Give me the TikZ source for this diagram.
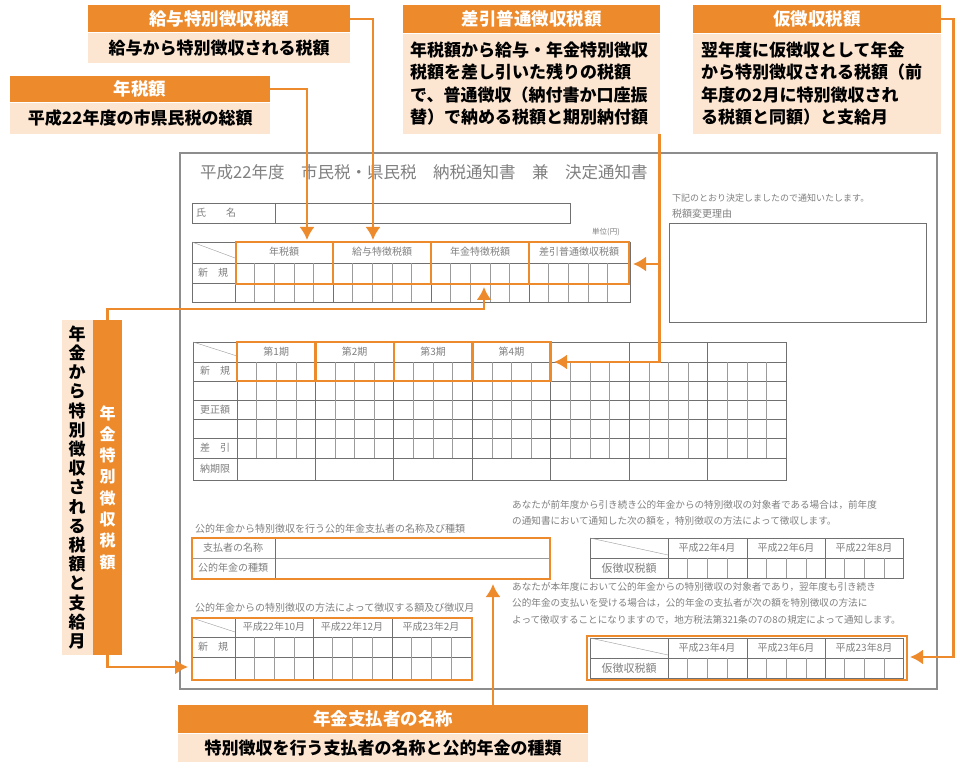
\documentclass[tikz,border=0pt]{standalone}
\usepackage{fontspec}
\setmainfont{Noto Sans CJK JP}
\usetikzlibrary{shapes,arrows,arrows.meta}
\usetikzlibrary{positioning}

\definecolor{orng}{HTML}{EC8A2C}
\definecolor{peach}{HTML}{FCE6D2}
\definecolor{formgray}{HTML}{707070}
\definecolor{textgray}{HTML}{808080}

\tikzset{
  hdr/.style={fill=orng, text=white, inner sep=0pt, font=\fontsize{17.5}{20}\selectfont\bfseries},
  body/.style={fill=peach, text=black, inner sep=0pt, font=\fontsize{17}{22.5}\selectfont\bfseries},
  conn/.style={draw=orng, line width=2.2pt, -{Latex[length=13pt, width=15pt]}},
  obox/.style={draw=orng, line width=2.5pt},
  frm/.style={draw=formgray, line width=0.9pt},
  cell/.style={draw=formgray!70, line width=0.4pt},
  ftext/.style={text=textgray, inner sep=0pt, font=\fontsize{10}{16}\selectfont},
}

\begin{document}
\begin{tikzpicture}[x=1pt, y=-1pt]
    \fill[white] (0,0) rectangle (959,762);
    \useasboundingbox (0,0) rectangle (959,762);

    % callouts
    \node[hdr, anchor=north west, minimum width=262pt, minimum height=27pt] (kyuyoHdr) at (88,5) {給与特別徴収税額};
    \node[body, minimum width=262pt, minimum height=30pt, below=0pt of kyuyoHdr] (kyuyoBody) {給与から特別徴収される税額};
    \node[hdr, anchor=north west, minimum width=260pt, minimum height=26pt] (nenHdr) at (10,76) {年税額};
    \node[body, minimum width=260pt, minimum height=31pt, below=0pt of nenHdr] (nenBody) {平成22年度の市県民税の総額};
    \node[hdr, anchor=north west, minimum width=257pt, minimum height=28pt] (sashiHdr) at (403,5) {差引普通徴収税額};
    \node[body, minimum width=257pt, minimum height=100pt, text width=243pt, align=left, below=0pt of sashiHdr] (sashiBody)
        {年税額から給与・年金特別徴収\\税額を差し引いた残りの税額\\で、普通徴収（納付書か口座振\\替）で納める税額と期別納付額};
    \node[hdr, anchor=north west, minimum width=248pt, minimum height=28pt] (kariHdr) at (693,5) {仮徴収税額};
    \node[body, minimum width=248pt, minimum height=100pt, text width=232pt, align=left, below=0pt of kariHdr] (kariBody)
        {翌年度に仮徴収として年金\\から特別徴収される税額（前\\年度の2月に特別徴収され\\る税額と同額）と支給月};
    \node[hdr, minimum width=29pt, minimum height=335pt, align=center, font=\fontsize{16}{21.3}\selectfont\bfseries] (nkHdr) at (107.5,487.5)
        {年\\金\\特\\別\\徴\\収\\税\\額};
    \node[body, minimum width=31pt, minimum height=335pt, align=center, font=\fontsize{17}{19.2}\selectfont\bfseries, left=0pt of nkHdr] (nkBody)
        {年\\金\\か\\ら\\特\\別\\徴\\収\\さ\\れ\\る\\税\\額\\と\\支\\給\\月};
    \node[hdr, anchor=north west, minimum width=410pt, minimum height=28pt] (shiHdr) at (178,705) {年金支払者の名称};
    \node[body, minimum width=410pt, minimum height=29pt, below=0pt of shiHdr] (shiBody) {特別徴収を行う支払者の名称と公的年金の種類};

    % form
    \draw[draw=formgray!80, line width=1.5pt] (180,153) rectangle (937,689);
    \node[ftext, anchor=west, font=\fontsize{16.5}{18}\selectfont] (formTitle) at (200,172)
        {平成22年度　市民税・県民税　納税通知書　兼　決定通知書};
    \draw[frm] (192,203) rectangle (570,223) (275,203) -- (275,223);
    \node[ftext, anchor=west] (shimei) at (196,213) {氏　　名};
    \node[ftext, font=\fontsize{7.5}{9}\selectfont] (tani) at (606,232) {単位(円)};
    \node[ftext, anchor=west, font=\fontsize{9}{10}\selectfont] (kaki) at (672,198) {下記のとおり決定しましたので通知いたします。};
    \node[ftext, anchor=west] (riyu) at (672,214) {税額変更理由};
    \draw[frm] (669,223) rectangle (926,322);

    % top table
    \draw[frm] (192,242) rectangle (630,302) (192,263) -- (630,263) (192,283) -- (630,283) (235,242) -- (235,302);
    \foreach \g in {333,431,529} \draw[frm] (\g,242) -- (\g,302);
    \draw[cell] (192,242) -- (235,258);
    \foreach \g in {235,333,431,529} \foreach \k in {1,...,4} \draw[cell] ({\g+19.6*\k},263) -- ({\g+19.6*\k},302);
    \node[ftext] (colNen) at (284,252) {年税額};
    \node[ftext] (colKyuyo) at (382,252) {給与特徴税額};
    \node[ftext] (colNenkin) at (480,252) {年金特徴税額};
    \node[ftext] (colSashi) at (579,252) {差引普通徴収税額};
    \node[ftext] (topShinki) at (213,273) {新　規};
    \draw[obox] (236,242) rectangle (629,284);
    \foreach \g in {333,431,529} \draw[obox] (\g,242) -- (\g,284);

    % period table
    \draw[frm] (193,342) rectangle (786,480) (237,342) -- (237,480);
    \foreach \y in {362,381,400,419,438,458} \draw[frm] (193,\y) -- (786,\y);
    \foreach \k in {1,...,6} \draw[frm] ({237+78.43*\k},342) -- ({237+78.43*\k},480);
    \foreach \k in {0,...,6} \foreach \j in {1,2,3} \draw[cell] ({237+78.43*\k+19.6*\j},362) -- ({237+78.43*\k+19.6*\j},458);
    \draw[cell] (193,342) -- (237,356);
    \foreach \k in {1,...,4} \node[ftext] (ki\k) at ({237+78.43*\k-39.2},352) {第\k 期};
    \node[ftext] (kiShinki) at (215,371) {新　規};
    \node[ftext] (kiKosei) at (215,410) {更正額};
    \node[ftext] (kiSashi) at (215,448) {差　引};
    \node[ftext] (kiNoki) at (215,469) {納期限};
    \draw[obox] (237,342) rectangle (550.7,381);
    \foreach \k in {1,2,3} \draw[obox] ({237+78.43*\k},342) -- ({237+78.43*\k},381);

    % payer box
    \node[ftext, anchor=west] (shiNote) at (195,529) {公的年金から特別徴収を行う公的年金支払者の名称及び種類};
    \draw[cell] (192,558) -- (550,558);
    \draw[frm] (275,538) -- (275,579);
    \node[ftext] (shiName) at (233,548) {支払者の名称};
    \node[ftext] (shiKind) at (233,568) {公的年金の種類};
    \draw[obox] (192,538) rectangle (550,579);

    % pension months table
    \node[ftext, anchor=west] (tsukiNote) at (195,608) {公的年金からの特別徴収の方法によって徴収する額及び徴収月};
    \draw[frm] (192,637) -- (472,637) (192,657) -- (472,657) (235,618) -- (235,679) (313,618) -- (313,679) (392,618) -- (392,679);
    \foreach \g in {235,313,392} \foreach \j in {1,2,3} \draw[cell] ({\g+19.6*\j},637) -- ({\g+19.6*\j},679);
    \draw[cell] (192,618) -- (235,632);
    \node[ftext] (m10) at (274,627) {平成22年10月};
    \node[ftext] (m12) at (352,627) {平成22年12月};
    \node[ftext] (m2) at (431,627) {平成23年2月};
    \node[ftext] (mShinki) at (213,647) {新　規};
    \draw[obox] (192,618) rectangle (472,680);

    % right tables
    \node[ftext, anchor=north west, align=left, font=\fontsize{9.6}{16}\selectfont] (noteA) at (512,500)
        {あなたが前年度から引き続き公的年金からの特別徴収の対象者である場合は，前年度\\の通知書において通知した次の額を，特別徴収の方法によって徴収します。};
    \foreach \y/\yr in {538/22,638/23} {
        \draw[frm] (590,\y) rectangle (903,\y+40) (590,\y+20) -- (903,\y+20);
        \foreach \x in {668,747,825} \draw[frm] (\x,\y) -- (\x,\y+40);
        \foreach \x in {668,747,825} \foreach \j in {1,2,3} \draw[cell] ({\x+19.6*\j},\y+20) -- ({\x+19.6*\j},\y+40);
        \draw[cell] (590,\y) -- (668,\y+17);
        \node[ftext] (kari\yr a) at (707,\y+10) {平成\yr 年4月};
        \node[ftext] (kari\yr b) at (786,\y+10) {平成\yr 年6月};
        \node[ftext] (kari\yr c) at (864,\y+10) {平成\yr 年8月};
        \node[ftext, font=\fontsize{11}{12}\selectfont] (kari\yr l) at (629,\y+30) {仮徴収税額};
    }
    \node[ftext, anchor=north west, align=left, font=\fontsize{9.6}{16.5}\selectfont] (noteB) at (512,582)
        {あなたが本年度において公的年金からの特別徴収の対象者であり，翌年度も引き続き\\公的年金の支払いを受ける場合は，公的年金の支払者が次の額を特別徴収の方法に\\よって徴収することになりますので，地方税法第321条の7の8の規定によって通知します。};
    \draw[obox] (587,636) rectangle (907,680);

    % connectors
    \coordinate (tgtNen) at (307,240);
    \coordinate (tgtKyuyo) at (373,240);
    \coordinate (tgtSashiA) at (633,264);
    \coordinate (tgtSashiB) at (554,362);
    \coordinate (tgtKari) at (910,657);
    \coordinate (tgtNkA) at (484,287);
    \coordinate (tgtNkB) at (188,667);
    \coordinate (tgtShi) at (493,584);
    \draw[conn] (nenHdr.east) -| (tgtNen);
    \draw[conn] (kyuyoHdr.east) -| (tgtKyuyo);
    \draw[conn] (sashiBody.south east) ++(-1,0) coordinate (sashiOut) |- (tgtSashiA);
    \draw[conn] (sashiOut) |- (tgtSashiB);
    \draw[conn] (kariHdr.east) -- ++(12,0) |- (tgtKari);
    \draw[conn] (nkHdr.north) -- ++(0,-11) -| (tgtNkA);
    \draw[conn] (nkHdr.south) |- (tgtNkB);
    \draw[conn] (shiHdr.north -| tgtShi) -- (tgtShi);
\end{tikzpicture}
\end{document}
